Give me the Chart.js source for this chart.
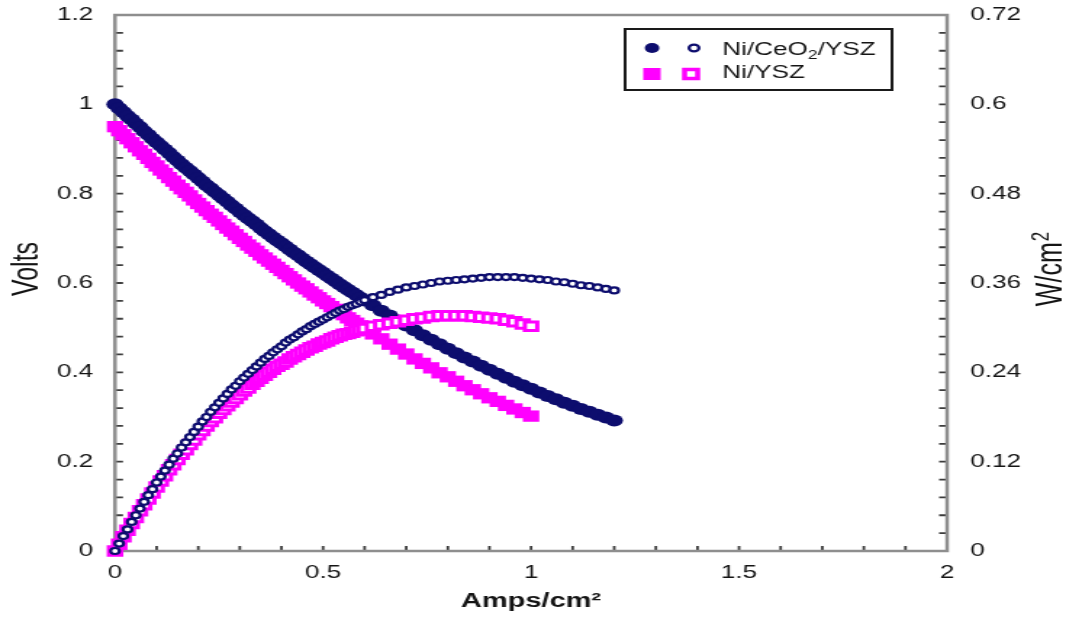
<!DOCTYPE html>
<html>
<head>
<meta charset="utf-8">
<script src="https://cdn.jsdelivr.net/npm/chart.js@4/dist/chart.umd.min.js"></script>
<style>
  html, body { margin: 0; padding: 0; background: #ffffff; overflow: hidden; }
  /* the figure is drawn on a narrow canvas and widened horizontally */
  #wrap { position: absolute; left: 0; top: 0; width: 735px; height: 621px;
          transform-origin: 0 0; transform: scaleX(1.45034); }
</style>
</head>
<body>
<div id="wrap"><canvas id="c" width="735" height="621"></canvas></div>
<script>
// ---- Cell performance data: current density (A/cm2), cell voltage (V), power density (W/cm2)

const ceCurrent = [
  0.00, 0.01, 0.02, 0.03, 0.04, 0.05, 0.06, 0.07, 0.08, 0.09,
  0.10, 0.11, 0.12, 0.13, 0.14, 0.15, 0.16, 0.17, 0.18, 0.19,
  0.20, 0.21, 0.22, 0.23, 0.24, 0.25, 0.26, 0.27, 0.28, 0.29,
  0.30, 0.31, 0.32, 0.33, 0.34, 0.35, 0.36, 0.37, 0.38, 0.39,
  0.40, 0.41, 0.42, 0.43, 0.44, 0.45, 0.46, 0.47, 0.48, 0.49,
  0.50, 0.51, 0.52, 0.53, 0.54, 0.55, 0.56, 0.57, 0.58, 0.59,
  0.60,
  0.62, 0.64, 0.66, 0.68, 0.70, 0.72, 0.74, 0.76, 0.78, 0.80,
  0.82, 0.84, 0.86, 0.88, 0.90, 0.92, 0.94, 0.96, 0.98, 1.00,
  1.02, 1.04, 1.06, 1.08, 1.10, 1.12, 1.14, 1.16, 1.18, 1.20
];
const ceVolts = [
  1.000, 0.991, 0.983, 0.974, 0.966, 0.957, 0.949, 0.940, 0.932, 0.923,
  0.915, 0.907, 0.899, 0.891, 0.882, 0.874, 0.866, 0.858, 0.851, 0.843,
  0.835, 0.827, 0.819, 0.812, 0.804, 0.797, 0.789, 0.782, 0.774, 0.767,
  0.759, 0.752, 0.745, 0.738, 0.731, 0.723, 0.716, 0.709, 0.702, 0.695,
  0.689, 0.682, 0.675, 0.668, 0.662, 0.655, 0.648, 0.642, 0.635, 0.629,
  0.623, 0.616, 0.610, 0.604, 0.597, 0.591, 0.585, 0.579, 0.573, 0.567,
  0.561,
  0.550, 0.538, 0.527, 0.516, 0.505, 0.494, 0.483, 0.473, 0.463, 0.453,
  0.443, 0.433, 0.424, 0.415, 0.406, 0.397, 0.388, 0.379, 0.371, 0.363,
  0.355, 0.347, 0.340, 0.332, 0.325, 0.318, 0.312, 0.305, 0.299, 0.292
];
const cePower = [
  0.000, 0.010, 0.020, 0.029, 0.039, 0.048, 0.057, 0.066, 0.075, 0.083,
  0.092, 0.100, 0.108, 0.116, 0.124, 0.131, 0.139, 0.146, 0.153, 0.160,
  0.167, 0.174, 0.180, 0.187, 0.193, 0.199, 0.205, 0.211, 0.217, 0.222,
  0.228, 0.233, 0.238, 0.243, 0.248, 0.253, 0.258, 0.262, 0.267, 0.271,
  0.275, 0.280, 0.284, 0.287, 0.291, 0.295, 0.298, 0.302, 0.305, 0.308,
  0.311, 0.314, 0.317, 0.320, 0.323, 0.325, 0.328, 0.330, 0.332, 0.335,
  0.337,
  0.341, 0.344, 0.348, 0.351, 0.354, 0.356, 0.358, 0.360, 0.362, 0.363,
  0.364, 0.365, 0.366, 0.367, 0.368, 0.368, 0.368, 0.368, 0.367, 0.366,
  0.365, 0.364, 0.362, 0.361, 0.359, 0.357, 0.356, 0.354, 0.352, 0.350
];

const niCurrent = [
  0.00, 0.01, 0.02, 0.03, 0.04, 0.05, 0.06, 0.07, 0.08, 0.09,
  0.10, 0.11, 0.12, 0.13, 0.14, 0.15, 0.16, 0.17, 0.18, 0.19,
  0.20, 0.21, 0.22, 0.23, 0.24, 0.25, 0.26, 0.27, 0.28, 0.29,
  0.30, 0.31, 0.32, 0.33, 0.34, 0.35, 0.36, 0.37, 0.38, 0.39,
  0.40, 0.41, 0.42, 0.43, 0.44, 0.45, 0.46, 0.47, 0.48, 0.49,
  0.50, 0.51, 0.52, 0.53, 0.54, 0.55, 0.56, 0.57, 0.58, 0.59,
  0.60,
  0.62, 0.64, 0.66, 0.68, 0.70, 0.72, 0.74, 0.76, 0.78, 0.80,
  0.82, 0.84, 0.86, 0.88, 0.90, 0.92, 0.94, 0.96, 0.98, 1.00
];
const niVolts = [
  0.950, 0.941, 0.932, 0.923, 0.914, 0.905, 0.896, 0.888, 0.879, 0.870,
  0.862, 0.853, 0.845, 0.836, 0.828, 0.819, 0.811, 0.803, 0.795, 0.786,
  0.778, 0.770, 0.762, 0.754, 0.747, 0.739, 0.731, 0.723, 0.716, 0.708,
  0.700, 0.693, 0.685, 0.678, 0.671, 0.663, 0.656, 0.649, 0.642, 0.635,
  0.628, 0.621, 0.614, 0.607, 0.600, 0.593, 0.587, 0.580, 0.573, 0.567,
  0.560, 0.554, 0.547, 0.541, 0.535, 0.529, 0.522, 0.516, 0.510, 0.504,
  0.498,
  0.486, 0.475, 0.463, 0.452, 0.441, 0.430, 0.420, 0.410, 0.399, 0.390,
  0.380, 0.370, 0.361, 0.352, 0.343, 0.335, 0.326, 0.318, 0.310, 0.302
];
const niPower = [
  0.000, 0.009, 0.019, 0.028, 0.037, 0.045, 0.054, 0.062, 0.070, 0.078,
  0.086, 0.094, 0.101, 0.109, 0.116, 0.123, 0.130, 0.136, 0.143, 0.149,
  0.156, 0.162, 0.168, 0.174, 0.179, 0.185, 0.190, 0.195, 0.200, 0.205,
  0.210, 0.215, 0.219, 0.224, 0.228, 0.232, 0.236, 0.240, 0.244, 0.248,
  0.251, 0.254, 0.258, 0.261, 0.264, 0.267, 0.270, 0.273, 0.275, 0.278,
  0.280, 0.282, 0.285, 0.287, 0.289, 0.291, 0.292, 0.294, 0.296, 0.297,
  0.299,
  0.302, 0.304, 0.306, 0.308, 0.310, 0.312, 0.313, 0.315, 0.316, 0.316,
  0.316, 0.316, 0.315, 0.314, 0.313, 0.312, 0.310, 0.308, 0.305, 0.302
];

// ---- Axis ticks
const currentTicks = [0, 0.5, 1, 1.5, 2];
const currentTickLabels = ['0', '0.5', '1', '1.5', '2'];
const voltTicks = [0, 0.2, 0.4, 0.6, 0.8, 1, 1.2];
const voltTickLabels = ['0', '0.2', '0.4', '0.6', '0.8', '1', '1.2'];
const powerTicks = [0, 0.12, 0.24, 0.36, 0.48, 0.6, 0.72];
const powerTickLabels = ['0', '0.12', '0.24', '0.36', '0.48', '0.6', '0.72'];

// ---- Styling
const FONT = "'Liberation Sans', Arial, Helvetica, sans-serif";
const NAVY = '#0d0d6e';
const MAGENTA = '#ff00ff';
const TEXT = '#141414';

const pts = (xs, ys) => xs.map((x, i) => ({ x: x, y: ys[i] }));

// frame, inward tick marks, axis titles and the legend box
const decorations = {
  id: 'decorations',
  beforeDatasetsDraw(chart) {
    const { ctx, chartArea: a, scales } = chart;
    ctx.save();
    ctx.strokeStyle = '#3c3c3c';
    ctx.lineWidth = 1.8;
    ctx.beginPath();
    for (let i = 1; i < 20; i++) {
      const px = scales.x.getPixelForValue(i * 0.1);
      ctx.moveTo(px, a.bottom);
      ctx.lineTo(px, a.bottom - 5);
    }
    for (let i = 1; i < 30; i++) {
      const py = scales.y.getPixelForValue(i * 0.04);
      ctx.moveTo(a.left, py);
      ctx.lineTo(a.left + 5.5, py);
      const pr = scales.y2.getPixelForValue(i * 0.024);
      ctx.moveTo(a.right, pr);
      ctx.lineTo(a.right - 5.5, pr);
    }
    ctx.stroke();
    ctx.strokeStyle = '#8e8e8e';
    ctx.lineWidth = 2.5;
    ctx.strokeRect(a.left, a.top, a.right - a.left, a.bottom - a.top);
    ctx.restore();
  },
  afterDraw(chart) {
    const { ctx } = chart;
    ctx.save();
    ctx.fillStyle = TEXT;
    ctx.textBaseline = 'alphabetic';

    // left axis title
    ctx.save();
    ctx.translate(25.5, 269);
    ctx.rotate(-Math.PI / 2);
    ctx.font = `25px ${FONT}`;
    ctx.textAlign = 'center';
    ctx.fillText('Volts', 0, 0);
    ctx.restore();

    // right axis title with superscript
    ctx.save();
    ctx.translate(732, 269);
    ctx.rotate(-Math.PI / 2);
    ctx.textAlign = 'left';
    ctx.font = `25px ${FONT}`;
    const w1 = ctx.measureText('W/cm').width;
    ctx.font = `17px ${FONT}`;
    const w2 = ctx.measureText('2').width;
    const x0 = -(w1 + w2 + 1) / 2;
    ctx.font = `25px ${FONT}`;
    ctx.fillText('W/cm', x0, 0);
    ctx.font = `17px ${FONT}`;
    ctx.fillText('2', x0 + w1 + 1, -9);
    ctx.restore();

    // legend box
    ctx.strokeStyle = '#1a1a1a';
    ctx.lineWidth = 2;
    ctx.strokeRect(431, 29, 184, 61);

    // row 1: filled and open circles
    ctx.fillStyle = NAVY;
    ctx.beginPath(); ctx.arc(449.6, 48, 5, 0, Math.PI * 2); ctx.fill();
    ctx.fillStyle = '#ffffff';
    ctx.strokeStyle = NAVY;
    ctx.lineWidth = 2.2;
    ctx.beginPath(); ctx.arc(478.5, 48, 3.4, 0, Math.PI * 2); ctx.fill(); ctx.stroke();

    // row 2: filled and open squares
    ctx.fillStyle = MAGENTA;
    ctx.fillRect(443.5, 68, 12, 12);
    ctx.fillStyle = '#ffffff';
    ctx.strokeStyle = MAGENTA;
    ctx.lineWidth = 3.5;
    ctx.fillRect(472, 69.5, 9, 9);
    ctx.strokeRect(472, 69.5, 9, 9);

    // legend labels
    ctx.fillStyle = TEXT;
    ctx.textAlign = 'left';
    ctx.font = `18px ${FONT}`;
    let tx = 498;
    ctx.fillText('Ni/CeO', tx, 54.5);
    tx += ctx.measureText('Ni/CeO').width;
    ctx.font = `12px ${FONT}`;
    ctx.fillText('2', tx, 58.5);
    tx += ctx.measureText('2').width;
    ctx.font = `18px ${FONT}`;
    ctx.fillText('/YSZ', tx, 54.5);
    ctx.fillText('Ni/YSZ', 498, 78);
    ctx.restore();
  }
};

const tickFont = { family: FONT, size: 18 };
const noGrid = { display: false, drawTicks: false };

new Chart(document.getElementById('c'), {
  type: 'scatter',
  data: {
    datasets: [
      { label: 'Ni/YSZ voltage', data: pts(niCurrent, niVolts), yAxisID: 'y',
        pointStyle: 'rect', pointRadius: 8, pointHoverRadius: 8,
        backgroundColor: MAGENTA, borderColor: MAGENTA, borderWidth: 0, order: 4, clip: false },
      { label: 'Ni/CeO2/YSZ voltage', data: pts(ceCurrent, ceVolts), yAxisID: 'y',
        pointStyle: 'circle', pointRadius: 6, pointHoverRadius: 6,
        backgroundColor: NAVY, borderColor: NAVY, borderWidth: 0, order: 3, clip: false },
      { label: 'Ni/YSZ power', data: pts(niCurrent, niPower), yAxisID: 'y2',
        pointStyle: 'rect', pointRadius: 6, pointHoverRadius: 6,
        backgroundColor: '#ffffff', borderColor: MAGENTA, borderWidth: 3, order: 2, clip: false },
      { label: 'Ni/CeO2/YSZ power', data: pts(ceCurrent, cePower), yAxisID: 'y2',
        pointStyle: 'circle', pointRadius: 3, pointHoverRadius: 3,
        backgroundColor: '#ffffff', borderColor: NAVY, borderWidth: 2.2, order: 1, clip: false }
    ]
  },
  options: {
    responsive: false,
    animation: false,
    devicePixelRatio: 1,
    events: [],
    layout: { padding: { top: 15, left: 0, right: 0, bottom: 0 } },
    plugins: { legend: { display: false }, tooltip: { enabled: false } },
    scales: {
      x: {
        type: 'linear', position: 'bottom', min: 0, max: 2,
        afterBuildTicks: s => { s.ticks = currentTicks.map(v => ({ value: v })); },
        afterFit: s => { s.height = 70; s.paddingLeft = 0; s.paddingRight = 0; },
        grid: noGrid, border: { display: false },
        ticks: { callback: (v, i) => currentTickLabels[i], font: tickFont, color: TEXT,
                 padding: 11, maxRotation: 0, autoSkip: false },
        title: { display: true, text: 'Amps/cm²', color: TEXT,
                 font: { family: FONT, size: 20, weight: 'bold' }, padding: { top: 0, bottom: 8 } }
      },
      y: {
        type: 'linear', position: 'left', min: 0, max: 1.2,
        afterBuildTicks: s => { s.ticks = voltTicks.map(v => ({ value: v })); },
        afterFit: s => { s.width = 79.3; s.paddingTop = 0; s.paddingBottom = 0; },
        grid: noGrid, border: { display: false },
        ticks: { callback: (v, i) => voltTickLabels[i], font: tickFont, color: TEXT,
                 padding: 15, autoSkip: false }
      },
      y2: {
        type: 'linear', position: 'right', min: 0, max: 0.72,
        afterBuildTicks: s => { s.ticks = powerTicks.map(v => ({ value: v })); },
        afterFit: s => { s.width = 82; s.paddingTop = 0; s.paddingBottom = 0; },
        grid: noGrid, border: { display: false },
        ticks: { callback: (v, i) => powerTickLabels[i], font: tickFont, color: TEXT,
                 padding: 16, autoSkip: false }
      }
    }
  },
  plugins: [decorations]
});
</script>
</body>
</html>
